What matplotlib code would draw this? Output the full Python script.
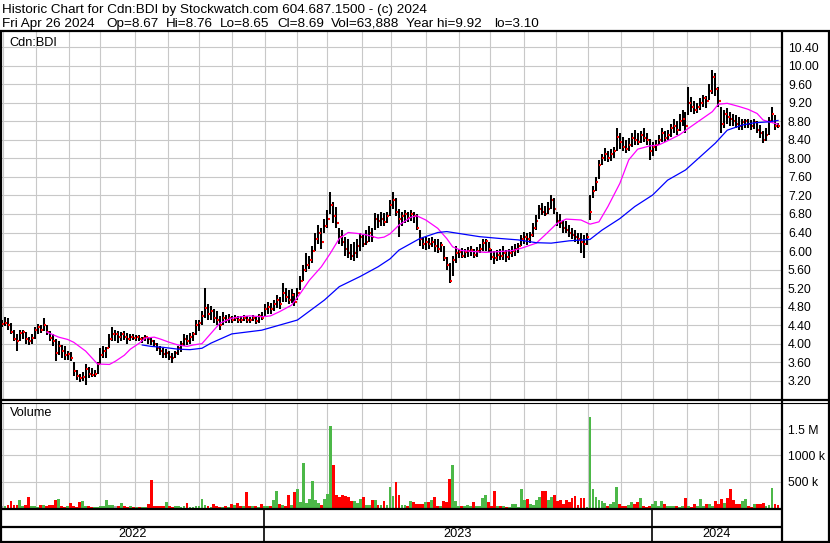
# Stockwatch style historic chart for Cdn:BDI (daily bars shown two sessions per bar)
import numpy as np
import pandas as pd
import matplotlib
matplotlib.use('Agg')
import matplotlib.pyplot as plt

plt.rcParams['font.family'] = ['Liberation Sans', 'DejaVu Sans']
plt.rcParams['font.size'] = 8.6

# ---- data ----
hi = [4.50, 4.58, 4.56, 4.45, 4.30, 4.20, 4.30, 4.30, 4.25, 4.15,
      4.20, 4.35, 4.42, 4.40, 4.55, 4.40, 4.28, 4.20, 4.10, 4.05,
      3.98, 3.95, 3.85, 3.82, 3.60, 3.42, 3.35, 3.38, 3.55, 3.50,
      3.48, 3.42, 3.60, 3.90, 3.95, 3.92, 4.20, 4.36, 4.30, 4.28,
      4.25, 4.28, 4.22, 4.20, 4.20, 4.18, 4.18, 4.15, 4.18, 4.15,
      4.12, 4.08, 4.02, 3.95, 3.90, 3.88, 3.85, 3.80, 3.85, 3.95,
      4.05, 4.20, 4.18, 4.22, 4.25, 4.50, 4.52, 4.70, 5.20, 4.85,
      4.82, 4.75, 4.70, 4.60, 4.68, 4.62, 4.65, 4.60, 4.62, 4.60,
      4.60, 4.62, 4.60, 4.58, 4.62, 4.58, 4.65, 4.68, 4.85, 4.90,
      4.88, 4.95, 5.05, 5.00, 5.30, 5.20, 5.15, 5.18, 5.10, 5.20,
      5.45, 5.70, 5.95, 5.90, 6.10, 6.40, 6.56, 6.50, 6.70, 6.89,
      7.28, 7.05, 6.95, 6.50, 6.45, 6.30, 6.25, 6.15, 6.20, 6.25,
      6.38, 6.35, 6.45, 6.53, 6.50, 6.82, 6.80, 6.85, 6.82, 6.85,
      7.10, 7.28, 7.15, 6.90, 6.85, 6.88, 6.85, 6.88, 6.85, 6.80,
      6.45, 6.30, 6.31, 6.28, 6.30, 6.27, 6.25, 6.20, 6.10, 5.88,
      5.75, 5.90, 6.10, 6.05, 6.06, 6.05, 6.08, 6.10, 6.05, 6.08,
      6.15, 6.27, 6.25, 6.20, 6.05, 6.00, 6.02, 6.05, 6.10, 6.02,
      6.05, 6.10, 6.15, 6.17, 6.35, 6.42, 6.38, 6.42, 6.60, 6.78,
      7.00, 7.03, 6.98, 7.05, 7.21, 7.15, 6.85, 6.80, 6.67, 6.65,
      6.56, 6.50, 6.45, 6.40, 6.38, 6.35, 6.38, 7.21, 7.40, 7.60,
      7.97, 8.10, 8.22, 8.15, 8.20, 8.25, 8.65, 8.55, 8.47, 8.40,
      8.45, 8.55, 8.61, 8.55, 8.60, 8.65, 8.55, 8.43, 8.35, 8.40,
      8.50, 8.65, 8.60, 8.62, 8.75, 8.86, 8.80, 8.95, 9.05, 9.00,
      9.55, 9.33, 9.25, 9.20, 9.30, 9.37, 9.35, 9.60, 9.92, 9.85,
      9.55, 9.12, 9.05, 9.08, 9.00, 8.95, 8.94, 8.90, 8.85, 8.86,
      8.86, 8.84, 8.85, 8.80, 8.72, 8.60, 8.65, 8.90, 9.12, 8.94, 8.76]

lo = [4.35, 4.38, 4.30, 4.20, 4.05, 3.85, 4.05, 4.10, 4.00, 3.98,
      4.00, 4.10, 4.20, 4.22, 4.28, 4.18, 4.05, 3.95, 3.62, 3.75,
      3.70, 3.65, 3.65, 3.62, 3.30, 3.22, 3.18, 3.20, 3.10, 3.25,
      3.28, 3.28, 3.35, 3.55, 3.70, 3.70, 3.90, 4.05, 4.05, 4.02,
      4.05, 4.08, 4.00, 4.05, 4.08, 4.05, 4.05, 4.02, 4.05, 4.00,
      3.98, 3.92, 3.85, 3.75, 3.70, 3.70, 3.65, 3.58, 3.68, 3.75,
      3.82, 3.95, 3.98, 4.00, 4.05, 4.18, 4.28, 4.40, 4.55, 4.50,
      4.52, 4.45, 4.40, 4.30, 4.40, 4.45, 4.45, 4.45, 4.48, 4.45,
      4.45, 4.48, 4.45, 4.45, 4.48, 4.42, 4.45, 4.50, 4.60, 4.65,
      4.65, 4.70, 4.78, 4.75, 4.90, 4.90, 4.85, 4.88, 4.82, 4.95,
      5.15, 5.35, 5.55, 5.62, 5.75, 6.00, 6.15, 6.05, 6.40, 6.50,
      6.80, 6.60, 6.50, 6.15, 6.10, 5.90, 5.85, 5.80, 5.78, 5.85,
      6.00, 6.08, 6.12, 6.20, 6.20, 6.45, 6.50, 6.55, 6.55, 6.60,
      6.75, 6.90, 6.75, 6.30, 6.55, 6.60, 6.62, 6.65, 6.60, 6.45,
      6.10, 6.05, 6.02, 6.05, 6.08, 5.98, 5.95, 5.98, 5.78, 5.60,
      5.30, 5.45, 5.75, 5.85, 5.84, 5.85, 5.88, 5.90, 5.85, 5.88,
      5.95, 6.00, 6.00, 5.98, 5.80, 5.73, 5.78, 5.80, 5.80, 5.77,
      5.80, 5.88, 5.90, 5.95, 6.10, 6.15, 6.12, 6.18, 6.30, 6.45,
      6.70, 6.78, 6.75, 6.80, 6.90, 6.80, 6.55, 6.49, 6.40, 6.38,
      6.30, 6.25, 6.20, 6.15, 5.95, 5.86, 6.13, 6.67, 7.15, 7.30,
      7.55, 7.85, 7.95, 7.92, 7.95, 8.00, 8.15, 8.20, 8.15, 8.11,
      8.15, 8.25, 8.30, 8.28, 8.33, 8.35, 8.30, 7.97, 8.05, 8.15,
      8.29, 8.35, 8.35, 8.40, 8.47, 8.55, 8.50, 8.60, 8.70, 8.54,
      8.94, 9.00, 8.97, 8.98, 9.05, 9.10, 9.08, 9.26, 9.40, 9.35,
      9.12, 8.54, 8.65, 8.75, 8.70, 8.69, 8.65, 8.61, 8.62, 8.65,
      8.65, 8.62, 8.64, 8.55, 8.45, 8.33, 8.38, 8.50, 8.76, 8.61, 8.65]

cl = [4.42, 4.45, 4.40, 4.25, 4.10, 4.05, 4.22, 4.25, 4.10, 4.05,
      4.12, 4.30, 4.35, 4.30, 4.40, 4.25, 4.12, 4.05, 3.80, 3.95,
      3.85, 3.75, 3.78, 3.70, 3.40, 3.30, 3.25, 3.28, 3.45, 3.35,
      3.32, 3.35, 3.55, 3.75, 3.85, 3.90, 4.10, 4.20, 4.20, 4.15,
      4.20, 4.15, 4.10, 4.15, 4.12, 4.15, 4.10, 4.12, 4.15, 4.10,
      4.05, 4.00, 3.90, 3.85, 3.78, 3.80, 3.72, 3.70, 3.80, 3.90,
      4.00, 4.10, 4.05, 4.15, 4.20, 4.40, 4.45, 4.60, 4.76, 4.65,
      4.70, 4.55, 4.50, 4.40, 4.55, 4.50, 4.55, 4.50, 4.55, 4.52,
      4.50, 4.55, 4.52, 4.50, 4.55, 4.48, 4.60, 4.55, 4.75, 4.80,
      4.75, 4.85, 4.95, 4.85, 5.10, 5.00, 4.95, 5.05, 4.90, 5.10,
      5.35, 5.60, 5.70, 5.80, 6.00, 6.25, 6.40, 6.20, 6.55, 6.70,
      7.00, 6.75, 6.60, 6.30, 6.20, 6.05, 5.95, 5.90, 5.95, 6.10,
      6.30, 6.15, 6.20, 6.40, 6.30, 6.70, 6.65, 6.70, 6.62, 6.75,
      7.00, 7.10, 6.85, 6.70, 6.75, 6.80, 6.72, 6.80, 6.75, 6.50,
      6.25, 6.15, 6.20, 6.15, 6.20, 6.10, 6.05, 6.12, 5.85, 5.70,
      5.35, 5.80, 5.95, 5.97, 5.90, 5.98, 6.00, 6.02, 5.92, 6.00,
      6.05, 6.18, 6.22, 6.05, 5.88, 5.85, 5.92, 5.90, 5.95, 5.88,
      5.95, 6.00, 6.05, 6.10, 6.25, 6.30, 6.25, 6.35, 6.50, 6.65,
      6.90, 6.85, 6.80, 6.90, 7.10, 6.90, 6.65, 6.60, 6.50, 6.45,
      6.40, 6.35, 6.30, 6.25, 6.20, 6.15, 6.30, 6.85, 7.30, 7.50,
      7.85, 8.00, 8.10, 8.00, 8.10, 8.15, 8.47, 8.35, 8.25, 8.20,
      8.30, 8.45, 8.40, 8.35, 8.50, 8.45, 8.40, 8.15, 8.25, 8.30,
      8.40, 8.55, 8.45, 8.50, 8.65, 8.70, 8.62, 8.80, 8.85, 8.70,
      9.20, 9.10, 9.05, 9.10, 9.20, 9.30, 9.25, 9.45, 9.75, 9.50,
      9.25, 8.75, 8.95, 8.90, 8.85, 8.80, 8.75, 8.70, 8.78, 8.80,
      8.75, 8.70, 8.78, 8.62, 8.55, 8.40, 8.50, 8.80, 8.95, 8.70, 8.69]

# volume, thousands of shares
vol = [40, 30, 60, 141, 55, 60, 160, 45, 50, 218,
       30, 35, 25, 55, 60, 40, 55, 60, 160, 180,
       30, 25, 35, 96, 30, 25, 122, 141, 45, 30,
       25, 20, 25, 30, 30, 160, 60, 50, 45, 40,
       96, 35, 25, 30, 20, 15, 15, 20, 15, 77,
       526, 40, 30, 45, 35, 115, 30, 25, 35, 30,
       25, 30, 96, 25, 20, 30, 40, 180, 60, 30,
       25, 77, 30, 25, 20, 30, 25, 70, 50, 96,
       40, 30, 295, 45, 30, 35, 25, 77, 40, 35,
       30, 160, 330, 70, 50, 40, 250, 60, 310, 370,
       115, 850, 100, 180, 505, 150, 100, 65, 180, 275,
       1550, 815, 256, 200, 256, 230, 200, 141, 128, 100,
       180, 218, 60, 50, 160, 147, 60, 50, 141, 60,
       390, 230, 487, 256, 60, 50, 40, 128, 115, 83,
       70, 83, 115, 115, 147, 205, 30, 30, 128, 115,
       551, 820, 128, 40, 30, 35, 51, 40, 109, 35,
       30, 186, 244, 115, 40, 320, 30, 30, 35, 25,
       25, 70, 83, 10, 359, 147, 167, 83, 51, 147,
       212, 320, 320, 147, 212, 244, 128, 147, 83, 147,
       115, 199, 224, 51, 186, 199, 20, 1737, 352, 212,
       147, 128, 96, 32, 70, 115, 391, 83, 32, 32,
       64, 109, 83, 109, 199, 45, 25, 32, 83, 128,
       32, 128, 83, 45, 32, 45, 45, 20, 45, 199,
       32, 20, 83, 32, 167, 32, 70, 83, 32, 128,
       70, 167, 103, 186, 359, 147, 83, 83, 128, 167,
       32, 20, 83, 70, 83, 96, 32, 64, 378, 83, 64]

# moving averages (bar number, value)
fast_k = [15, 19, 22, 24, 28, 30, 32, 36, 38, 41, 43, 46, 48, 51, 53, 56, 59, 62, 64, 67,
          70, 73, 77, 80, 83, 87, 90, 93, 97, 100, 103, 107, 110, 113, 116, 119, 122, 126, 128, 130,
          133, 137, 139, 142, 146, 149, 151, 154, 158, 162, 167, 171, 174, 179, 182, 186, 189, 194, 197, 200,
          203, 207, 210, 213, 217, 220, 223, 227, 230, 234, 238, 240, 243, 247, 250, 253, 255, 257, 260]
fast_v = [4.25, 4.14, 4.09, 4.03, 3.84, 3.70, 3.56, 3.55, 3.62, 3.75, 3.88, 4.01, 4.12, 4.14, 4.10, 4.03, 3.97, 3.94, 3.97, 4.00,
          4.22, 4.44, 4.55, 4.58, 4.60, 4.58, 4.60, 4.69, 4.83, 5.09, 5.37, 5.66, 5.95, 6.27, 6.40, 6.38, 6.35, 6.28, 6.30, 6.37,
          6.56, 6.73, 6.76, 6.67, 6.49, 6.27, 6.09, 6.01, 5.99, 5.97, 5.99, 6.01, 6.06, 6.17, 6.35, 6.60, 6.69, 6.67, 6.58, 6.63,
          6.96, 7.46, 7.97, 8.20, 8.27, 8.29, 8.38, 8.51, 8.65, 8.83, 9.01, 9.17, 9.19, 9.12, 9.06, 8.97, 8.83, 8.79, 8.74]
slow_k = [47, 50, 54, 59, 63, 67, 70, 77, 87, 99, 108, 113, 120, 126, 130, 133, 140, 146, 149, 153,
          160, 167, 173, 179, 184, 190, 197, 201, 207, 212, 218, 223, 229, 234, 239, 243, 248, 252, 257, 260]
slow_v = [3.97, 3.94, 3.92, 3.88, 3.87, 3.90, 4.01, 4.21, 4.29, 4.51, 4.94, 5.23, 5.45, 5.66, 5.83, 6.02, 6.27, 6.40, 6.42, 6.38,
          6.31, 6.27, 6.24, 6.18, 6.17, 6.22, 6.25, 6.45, 6.70, 6.96, 7.21, 7.53, 7.75, 8.04, 8.33, 8.61, 8.72, 8.77, 8.79, 8.82]

price_ticks = [3.20, 3.60, 4.00, 4.40, 4.80, 5.20, 5.60, 6.00, 6.40, 6.80,
               7.20, 7.60, 8.00, 8.40, 8.80, 9.20, 9.60, 10.00, 10.40]
vol_ticks = [500000, 1000000, 1500000]
vol_labels = ['500 k', '1000 k', '1.5 M']
header1 = 'Historic Chart for Cdn:BDI by Stockwatch.com 604.687.1500 - (c) 2024'
header2 = ['Fri Apr 26 2024', 'Op=8.67', 'Hi=8.76', 'Lo=8.65', 'Cl=8.69',
           'Vol=63,888', 'Year hi=9.92', 'lo=3.10']
header2_x = [2, 106, 166, 220, 277, 331, 406, 494]

# ---- layout ----
W, H = 830, 543


def box(x0, y0, x1, y1):
    return [x0 / W, 1 - y1 / H, (x1 - x0) / W, (y1 - y0) / H]


dates = pd.bdate_range('2022-04-27', '2024-04-26')
month_idx = [i for i in range(1, len(dates)) if dates[i].month != dates[i - 1].month]
year_idx = [i for i in month_idx if dates[i].month == 1]
xlim = (1.33, 524.0)

hi = np.array(hi)
lo = np.array(lo)
cl = np.array(cl)
vol = np.array(vol) * 1000.0
x = np.arange(len(cl)) * 2 + 2
fast_x = np.array(fast_k) * 2 + 2
slow_x = np.array(slow_k) * 2 + 2

grid_c = '#c8c8c8'
fig = plt.figure(figsize=(W / 100, H / 100), dpi=100)

# price panel
ax = fig.add_axes(box(1, 31, 781, 399))
ax.set_xlim(xlim)
ax.set_ylim(2.804, 10.752)
ax.set_yticks(price_ticks)
ax.set_yticklabels(['%.2f' % v for v in price_ticks])
ax.yaxis.tick_right()
ax.tick_params(axis='y', length=0, pad=5.0, labelsize=8.8)
ax.set_xticks(month_idx)
ax.tick_params(axis='x', length=0, labelbottom=False)
ax.grid(True, color=grid_c, lw=0.8)
ax.set_axisbelow(True)
for s in ax.spines.values():
    s.set_visible(False)

ax.vlines(x, lo, hi, colors='black', lw=1.45, zorder=2)
ax.hlines(cl, x + 0.3, x + 1.5, colors='red', lw=1.5, zorder=3)
ax.plot(fast_x, fast_v, color='#ff00ff', lw=0.9, zorder=4)
ax.plot(slow_x, slow_v, color='#0000ff', lw=0.9, zorder=4)
ax.text(0.011, 0.968, 'Cdn:BDI', transform=ax.transAxes, va='center', fontsize=9.2)

# volume panel
axv = fig.add_axes(box(1, 403, 781, 508))
axv.set_xlim(xlim)
axv.set_ylim(0, 1.996e6)
axv.set_yticks(vol_ticks)
axv.set_yticklabels(vol_labels)
axv.yaxis.tick_right()
axv.tick_params(axis='y', length=0, pad=5.0, labelsize=8.8)
axv.set_xticks(month_idx)
axv.tick_params(axis='x', length=0, labelbottom=False)
axv.grid(True, color=grid_c, lw=0.8)
axv.set_axisbelow(True)
for s in axv.spines.values():
    s.set_visible(False)

chg = np.diff(np.concatenate([[cl[0]], cl]))
vcol = np.where(chg > 0.001, '#4cb848', np.where(chg < -0.001, '#ff0000', '#a8a8a8'))
axv.bar(x, vol, width=1.9, color=vcol, zorder=2)
axv.text(0.011, 0.9, 'Volume', transform=axv.transAxes, va='center', fontsize=9.2)

# year strip
axd = fig.add_axes(box(1, 509, 781, 541))
axd.set_xlim(xlim)
axd.set_ylim(0, 1)
axd.axis('off')
bounds = [xlim[0]] + [i - 0.5 for i in year_idx] + [xlim[1]]
axd.vlines(bounds[1:-1], 0, 1, colors='black', lw=1.2)
axd.axhline(14 / 32, color='black', lw=1.6)
for j, yr in enumerate(['2022', '2023', '2024']):
    axd.text((bounds[j] + bounds[j + 1]) / 2, 7 / 32, yr, ha='center', va='center', fontsize=9.2)

# frame and header
ov = fig.add_axes([0, 0, 1, 1], zorder=10)
ov.set_xlim(0, W)
ov.set_ylim(H, 0)
ov.axis('off')
ov.patch.set_alpha(0)
k = dict(color='black', solid_capstyle='butt')
ov.plot([0, W], [30.5, 30.5], lw=1.6, **k)
ov.plot([0.8, 0.8], [30, H], lw=1.6, **k)
ov.plot([W - 1.2, W - 1.2], [30, H], lw=1.6, **k)
ov.plot([0, W], [H - 1.5, H - 1.5], lw=1.6, **k)
ov.plot([781.5, 781.5], [30, H], lw=1.6, **k)
ov.plot([0, W], [399.8, 399.8], lw=1.6, **k)
ov.plot([0, W], [403.2, 403.2], lw=0.8, **k)
ov.plot([0, 781.5], [509.3, 509.3], lw=1.6, **k)
ov.text(2, 13.3, header1, va='baseline', fontsize=9.7)
for txt, tx in zip(header2, header2_x):
    ov.text(tx, 27.0, txt, va='baseline', fontsize=9.7)

fig.savefig('out.png', dpi=100)
